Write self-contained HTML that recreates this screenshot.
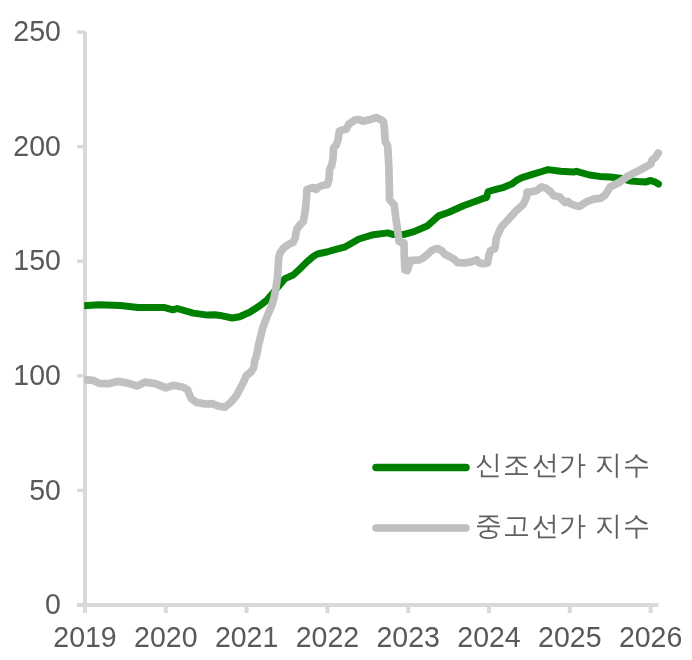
<!DOCTYPE html>
<html><head><meta charset="utf-8"><style>
html,body{margin:0;padding:0;background:#fff;}
body{width:692px;height:660px;overflow:hidden;}
svg{display:block;will-change:transform;}
text{font-family:"Liberation Sans",sans-serif;font-size:28.5px;fill:#595959;}
text.k{font-size:27px;fill:#606060;}
</style></head><body>
<svg width="692" height="660" viewBox="0 0 692 660">
<rect width="692" height="660" fill="#fff"/>
<line x1="85" y1="31.5" x2="85" y2="613" stroke="#d9d9d9" stroke-width="4"/>
<line x1="77" y1="605.0" x2="85" y2="605.0" stroke="#d9d9d9" stroke-width="3.4"/>
<line x1="77" y1="490.4" x2="85" y2="490.4" stroke="#d9d9d9" stroke-width="3.4"/>
<line x1="77" y1="375.8" x2="85" y2="375.8" stroke="#d9d9d9" stroke-width="3.4"/>
<line x1="77" y1="261.2" x2="85" y2="261.2" stroke="#d9d9d9" stroke-width="3.4"/>
<line x1="77" y1="146.6" x2="85" y2="146.6" stroke="#d9d9d9" stroke-width="3.4"/>
<line x1="77" y1="32.0" x2="85" y2="32.0" stroke="#d9d9d9" stroke-width="3.4"/>
<line x1="77" y1="605" x2="658.5" y2="605" stroke="#d9d9d9" stroke-width="4"/>
<line x1="165.8" y1="605" x2="165.8" y2="613" stroke="#d9d9d9" stroke-width="4"/>
<line x1="246.6" y1="605" x2="246.6" y2="613" stroke="#d9d9d9" stroke-width="4"/>
<line x1="327.4" y1="605" x2="327.4" y2="613" stroke="#d9d9d9" stroke-width="4"/>
<line x1="408.2" y1="605" x2="408.2" y2="613" stroke="#d9d9d9" stroke-width="4"/>
<line x1="489.0" y1="605" x2="489.0" y2="613" stroke="#d9d9d9" stroke-width="4"/>
<line x1="569.8" y1="605" x2="569.8" y2="613" stroke="#d9d9d9" stroke-width="4"/>
<line x1="650.6" y1="605" x2="650.6" y2="613" stroke="#d9d9d9" stroke-width="4"/>
<text transform="translate(60.9 614.1) scale(1 1.06)" text-anchor="end">0</text>
<text transform="translate(60.9 499.5) scale(1 1.06)" text-anchor="end">50</text>
<text transform="translate(60.9 384.9) scale(1 1.06)" text-anchor="end">100</text>
<text transform="translate(60.9 270.3) scale(1 1.06)" text-anchor="end">150</text>
<text transform="translate(60.9 155.7) scale(1 1.06)" text-anchor="end">200</text>
<text transform="translate(60.9 41.1) scale(1 1.06)" text-anchor="end">250</text>
<text transform="translate(85.0 647.4) scale(1 1.06)" text-anchor="middle">2019</text>
<text transform="translate(165.8 647.4) scale(1 1.06)" text-anchor="middle">2020</text>
<text transform="translate(246.6 647.4) scale(1 1.06)" text-anchor="middle">2021</text>
<text transform="translate(327.4 647.4) scale(1 1.06)" text-anchor="middle">2022</text>
<text transform="translate(408.2 647.4) scale(1 1.06)" text-anchor="middle">2023</text>
<text transform="translate(489.0 647.4) scale(1 1.06)" text-anchor="middle">2024</text>
<text transform="translate(569.8 647.4) scale(1 1.06)" text-anchor="middle">2025</text>
<text transform="translate(650.6 647.4) scale(1 1.06)" text-anchor="middle">2026</text>
<defs><clipPath id="c"><rect x="84.2" y="0" width="600" height="660"/></clipPath></defs>
<g clip-path="url(#c)">
<polyline points="84.0,305.8 98.8,304.8 120.5,305.4 137.8,307.4 163.8,307.4 173.0,309.8 177.3,308.5 193.2,313.1 207.7,315.1 214.9,314.8 222.1,315.8 232.3,318.0 239.5,316.7 250.2,312.0 260.8,305.0 266.8,300.2 275.9,289.5 285.0,278.6 293.2,275.0 300.3,268.5 306.4,262.4 312.4,257.1 317.0,254.1 319.5,253.5 326.7,252.0 334.0,249.9 344.5,247.2 358.9,239.0 373.4,234.7 387.8,232.9 393.6,234.6 403.2,234.6 414.0,231.6 427.7,225.7 438.6,215.9 448.9,212.3 463.4,205.8 477.8,200.5 483.0,198.4 486.5,197.5 488.2,191.5 496.0,189.3 503.8,187.3 511.6,184.1 516.8,180.2 522.0,177.6 532.4,174.3 540.2,172.0 548.0,169.6 560.6,171.3 573.6,172.0 576.5,171.3 589.5,175.0 599.6,176.4 610.1,177.0 620.2,178.2 630.8,181.0 638.1,181.6 645.3,182.0 650.8,180.5 655.0,182.0 658.5,184.0" fill="none" stroke="#008000" stroke-width="7" stroke-linejoin="round" stroke-linecap="round"/>
<polyline points="84.0,379.7 93.0,380.3 99.5,383.4 108.6,383.7 117.7,381.4 126.8,382.9 137.2,386.0 145.0,382.1 155.4,383.6 165.9,387.9 173.0,385.3 183.4,387.3 187.3,389.5 191.2,398.6 196.4,402.4 205.5,404.0 212.0,403.7 218.5,406.2 225.0,407.1 231.2,401.9 236.2,395.8 240.3,388.3 243.7,381.7 246.2,375.8 251.2,371.7 253.7,367.5 254.9,360.0 256.2,357.0 259.0,343.0 262.7,328.2 267.0,316.5 271.2,307.0 273.9,298.5 275.8,289.0 277.6,276.8 278.7,257.9 279.8,253.3 283.6,248.0 288.9,244.2 293.5,242.0 295.4,237.4 296.1,232.1 297.3,228.3 300.3,224.5 303.3,221.5 305.2,210.9 306.6,197.3 306.8,189.5 310.0,188.3 314.0,187.5 316.2,189.5 318.5,187.0 322.6,185.5 327.5,184.5 329.0,179.3 329.6,169.4 331.5,166.0 332.9,159.6 333.6,147.8 336.3,144.8 338.0,139.9 338.8,135.0 339.4,131.0 343.2,129.8 346.5,129.0 348.5,124.5 352.0,122.0 355.3,119.8 359.0,119.5 363.0,121.1 366.1,120.5 370.9,119.2 376.4,117.5 380.0,119.2 383.5,121.5 384.5,129.5 385.2,141.4 387.7,145.9 388.8,166.3 389.5,193.6 389.5,199.5 394.3,205.0 395.7,217.2 397.7,230.9 399.1,241.8 404.0,243.0 404.3,258.0 405.0,270.0 407.5,270.5 409.4,264.0 410.8,260.3 414.5,260.3 419.5,259.9 423.1,258.1 427.5,254.5 431.1,250.9 434.7,249.1 438.3,248.7 441.9,250.9 445.0,254.3 449.8,256.7 454.5,259.5 457.7,262.7 464.9,262.9 471.2,261.9 476.8,259.9 479.2,262.7 483.2,263.8 487.5,263.0 489.1,255.0 490.5,250.5 494.5,249.0 495.5,245.0 496.1,238.8 500.3,229.1 502.2,226.0 508.7,219.0 516.5,210.4 523.4,204.3 526.5,197.3 527.0,192.0 530.4,191.9 536.4,190.8 541.6,186.8 546.0,188.2 550.2,191.5 553.8,195.8 559.7,196.9 562.5,200.0 565.0,202.5 568.0,201.5 571.0,204.0 575.0,205.5 579.7,206.5 583.0,204.0 586.6,201.7 593.6,199.1 600.5,198.2 605.0,195.2 610.1,187.0 620.0,182.0 626.5,177.0 633.8,173.2 641.0,169.5 647.5,166.0 651.1,163.8 651.8,160.2 655.5,157.3 658.2,153.0" fill="none" stroke="#c0c0c0" stroke-width="7.7" stroke-linejoin="round" stroke-linecap="round"/>
</g>
<line x1="376" y1="467.4" x2="466" y2="467.4" stroke="#008000" stroke-width="7.5" stroke-linecap="round"/>
<line x1="376" y1="527.9" x2="466" y2="527.9" stroke="#bfbfbf" stroke-width="7.5" stroke-linecap="round"/>
<text class="k" x="475.2 503 532 558.7 590 594.8 623" y="473.6">신조선가 지수</text>
<text class="k" x="475.2 503.3 532 558.7 590 594.8 623" y="534.9">중고선가 지수</text>
</svg>
</body></html>
